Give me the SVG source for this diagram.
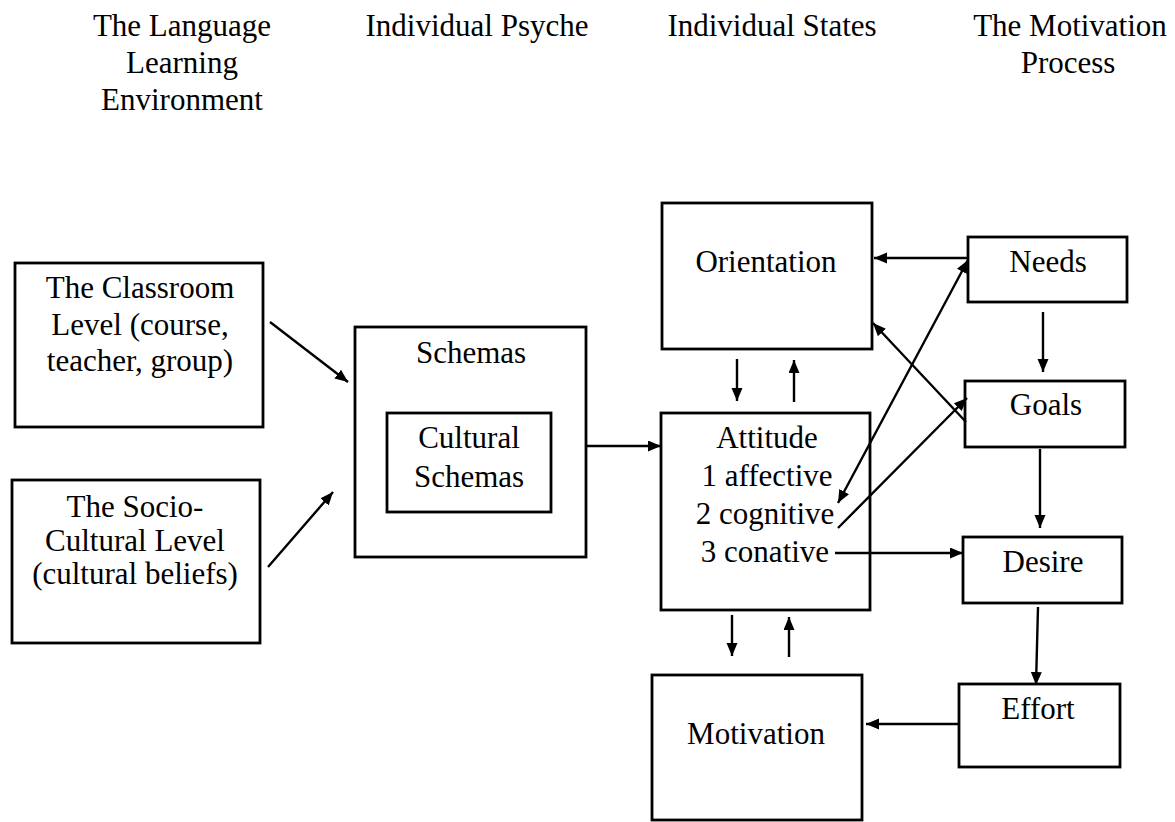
<svg xmlns="http://www.w3.org/2000/svg" width="1175" height="822" viewBox="0 0 1175 822">
<style>
  text { font-family: "Liberation Serif", "Times New Roman", serif; font-size: 31px; fill: #000; text-anchor: middle; }
  .box { fill: none; stroke: #000; stroke-width: 2.8; }
  .conn line { stroke: #000; stroke-width: 2.4; }
</style>
<defs>
  <marker id="ah" markerUnits="userSpaceOnUse" markerWidth="14" markerHeight="12" refX="13" refY="5.5" orient="auto-start-reverse">
    <path d="M0,0 L13,5.5 L0,11 z" fill="#000"/>
  </marker>
</defs>
<rect width="1175" height="822" fill="#fff"/>

<g id="headers">
  <text x="182" y="36">The Language</text>
  <text x="182" y="73">Learning</text>
  <text x="182" y="110">Environment</text>
  <text x="477" y="36">Individual Psyche</text>
  <text x="772" y="36">Individual States</text>
  <text x="1070" y="36">The Motivation</text>
  <text x="1068" y="73">Process</text>
</g>

<g id="classroom">
  <rect class="box" x="15" y="263" width="248" height="164"/>
  <text x="140" y="298">The Classroom</text>
  <text x="140" y="335">Level (course,</text>
  <text x="140" y="371">teacher, group)</text>
</g>

<g id="sociocultural">
  <rect class="box" x="12" y="480" width="248" height="163"/>
  <text x="135" y="517">The Socio-</text>
  <text x="135" y="551">Cultural Level</text>
  <text x="135" y="584">(cultural beliefs)</text>
</g>

<g id="schemas">
  <rect class="box" x="355" y="327" width="231" height="230"/>
  <text x="471" y="363">Schemas</text>
</g>

<g id="cultural-schemas">
  <rect class="box" x="387" y="413" width="164" height="99"/>
  <text x="469" y="448">Cultural</text>
  <text x="469" y="487">Schemas</text>
</g>

<g id="orientation">
  <rect class="box" x="662" y="203" width="210" height="146"/>
  <text x="766" y="272">Orientation</text>
</g>

<g id="attitude">
  <rect class="box" x="661" y="413" width="209" height="197"/>
  <text x="767" y="448">Attitude</text>
  <text x="767" y="486">1 affective</text>
  <text x="765" y="524">2 cognitive</text>
  <text x="765" y="562">3 conative</text>
</g>

<g id="motivation">
  <rect class="box" x="652" y="675" width="210" height="145"/>
  <text x="756" y="744">Motivation</text>
</g>

<g id="needs">
  <rect class="box" x="968" y="237" width="159" height="65"/>
  <text x="1048" y="272">Needs</text>
</g>

<g id="goals">
  <rect class="box" x="965" y="381" width="160" height="66"/>
  <text x="1046" y="415">Goals</text>
</g>

<g id="desire">
  <rect class="box" x="963" y="537" width="159" height="66"/>
  <text x="1043" y="572">Desire</text>
</g>

<g id="effort">
  <rect class="box" x="959" y="684" width="161" height="83"/>
  <text x="1038" y="719">Effort</text>
</g>

<g id="connectors" class="conn">
  <line x1="270" y1="322" x2="348" y2="382" marker-end="url(#ah)"/>
  <line x1="268" y1="567" x2="333" y2="492" marker-end="url(#ah)"/>
  <line x1="586" y1="446" x2="661" y2="446" marker-end="url(#ah)"/>
  <line x1="737" y1="359" x2="737" y2="401" marker-end="url(#ah)"/>
  <line x1="794" y1="402" x2="794" y2="360" marker-end="url(#ah)"/>
  <line x1="732" y1="615" x2="732" y2="656" marker-end="url(#ah)"/>
  <line x1="789" y1="657" x2="789" y2="617" marker-end="url(#ah)"/>
  <line x1="968" y1="258" x2="874" y2="258" marker-end="url(#ah)"/>
  <line x1="968" y1="260" x2="838" y2="503" marker-start="url(#ah)" marker-end="url(#ah)"/>
  <line x1="966" y1="422" x2="873" y2="323" marker-end="url(#ah)"/>
  <line x1="838" y1="528" x2="967" y2="398" marker-end="url(#ah)"/>
  <line x1="835" y1="553" x2="963" y2="553" marker-end="url(#ah)"/>
  <line x1="1043" y1="312" x2="1043" y2="372" marker-end="url(#ah)"/>
  <line x1="1040" y1="449" x2="1040" y2="528" marker-end="url(#ah)"/>
  <line x1="1038" y1="607" x2="1036" y2="685" marker-end="url(#ah)"/>
  <line x1="959" y1="724" x2="866" y2="724" marker-end="url(#ah)"/>
</g>
</svg>
